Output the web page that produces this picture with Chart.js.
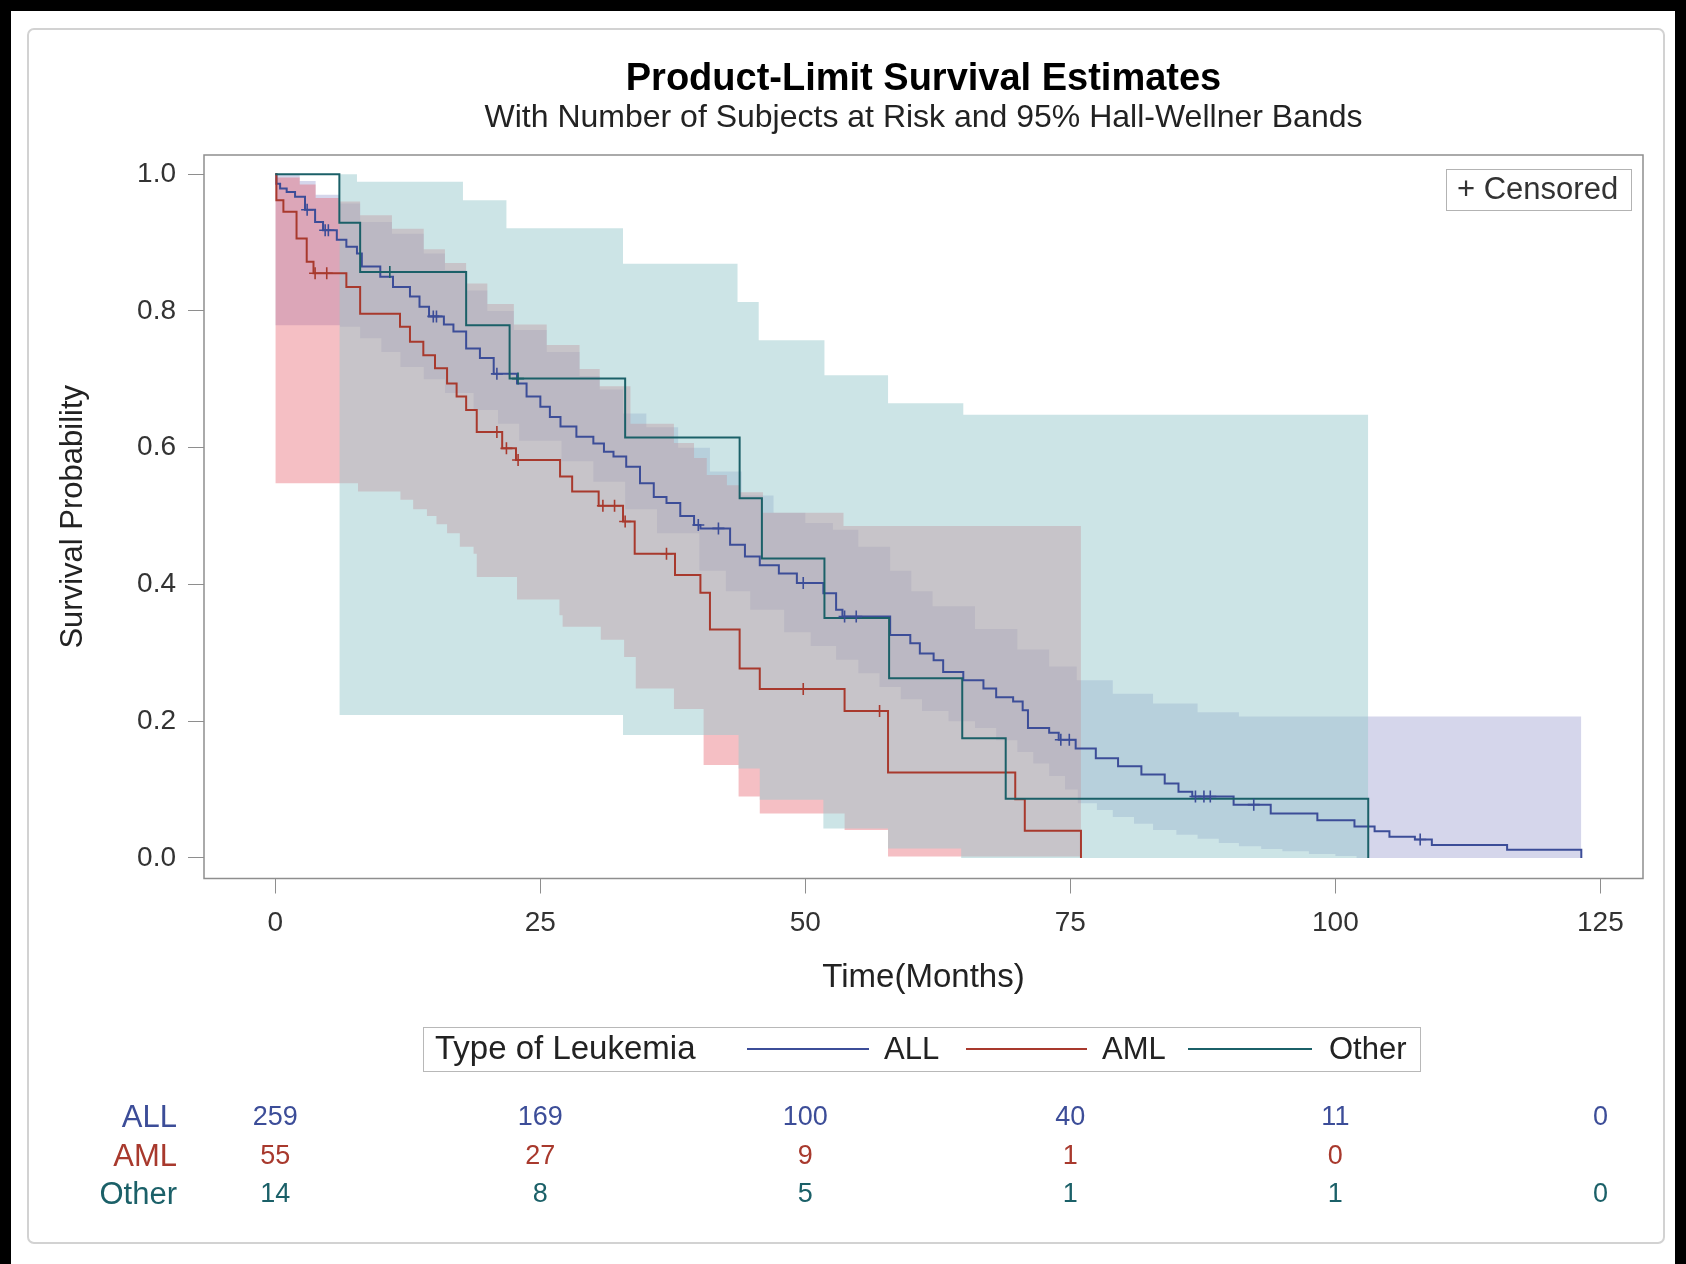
<!DOCTYPE html>
<html>
<head>
<meta charset="utf-8">
<title>Product-Limit Survival Estimates</title>
<script src="https://cdn.jsdelivr.net/npm/chart.js@4.4.1/dist/chart.umd.min.js"></script>
<style>
  html, body { margin: 0; padding: 0; background: #fff; }
  canvas { display: block; }
</style>
</head>
<body>
<canvas id="km" width="1686" height="1264"></canvas>
<script>
// Kaplan-Meier step values, [months, survival] - each value holds from its time on
const allCurve = [
  [0, 1.0], [0.1, 0.986], [0.45, 0.979], [1.07, 0.974], [1.86, 0.967], [2.8, 0.948], [3.75, 0.93],
  [4.5, 0.918], [5.8, 0.904], [6.7, 0.894], [7.7, 0.884], [8.16, 0.865], [9.9, 0.85], [11.1, 0.835],
  [12.7, 0.821], [13.6, 0.806], [14.5, 0.792], [15.9, 0.78], [16.8, 0.77], [18.0, 0.745], [19.3, 0.731],
  [20.6, 0.708], [22.8, 0.694], [23.7, 0.675], [25.0, 0.66], [25.9, 0.645], [26.9, 0.631], [28.4, 0.616],
  [30.0, 0.606], [31.0, 0.594], [31.9, 0.587], [33.1, 0.572], [34.4, 0.548], [35.7, 0.528], [36.9, 0.519],
  [38.2, 0.5], [39.5, 0.487], [40.1, 0.482], [42.9, 0.458], [44.3, 0.441], [45.7, 0.428], [47.5, 0.416],
  [49.2, 0.402], [51.7, 0.387], [52.9, 0.363], [53.5, 0.353], [58.0, 0.326], [59.9, 0.314], [60.8, 0.299],
  [62.1, 0.289], [63.0, 0.272], [64.9, 0.26], [66.8, 0.248], [68.0, 0.235], [69.6, 0.229], [70.5, 0.216],
  [71.0, 0.19], [73.0, 0.183], [73.9, 0.173], [75.5, 0.16], [77.4, 0.146], [79.5, 0.134], [81.7, 0.122],
  [83.9, 0.109], [85.2, 0.097], [86.5, 0.09], [90.4, 0.078], [93.9, 0.065], [98.3, 0.055], [101.8, 0.046],
  [103.7, 0.039], [105.1, 0.031], [107.5, 0.027], [109.1, 0.019], [116.2, 0.012], [123.2, 0.0]
];
const amlCurve = [
  [0, 1.0], [0.1, 0.962], [0.76, 0.945], [2.0, 0.906], [2.96, 0.872], [3.6, 0.855], [6.7, 0.835],
  [8.0, 0.796], [11.76, 0.777], [12.7, 0.755], [13.96, 0.735], [15.06, 0.716], [16.2, 0.694],
  [17.1, 0.675], [18.0, 0.655], [19.0, 0.623], [21.4, 0.599], [22.7, 0.582], [26.86, 0.558],
  [28.0, 0.536], [30.5, 0.515], [32.8, 0.492], [33.9, 0.445], [37.7, 0.414], [40.1, 0.388],
  [41.0, 0.334], [43.8, 0.277], [45.7, 0.247], [53.7, 0.215], [57.8, 0.125], [69.8, 0.086],
  [70.7, 0.040], [76.0, 0.0]
];
const otherCurve = [
  [0, 1.0], [6.04, 0.929], [8.0, 0.857], [18.0, 0.779], [22.1, 0.701], [33.0, 0.615], [43.8, 0.526],
  [45.9, 0.438], [51.8, 0.351], [57.9, 0.263], [64.8, 0.175], [68.9, 0.0865], [103.1, 0.0]
];

// censoring times (months)
const allCensor = [3.0, 4.7, 5.0, 14.9, 15.2, 20.9, 39.9, 41.8, 49.8, 53.7, 54.8, 74.1, 74.9, 86.8, 87.6, 88.2, 92.3, 108.0];
const amlCensor = [3.75, 4.85, 20.9, 21.8, 22.9, 30.9, 32.0, 33.0, 36.9, 49.8, 57.0];
const otherCensor = [10.8, 22.9];

// 95% Hall-Wellner bands, [months, bound]
const allUpper = [
  [0, 1.0], [2.3, 0.99], [3.8, 0.97], [6.1, 0.957], [8, 0.93], [11, 0.913], [14, 0.884], [16, 0.86],
  [18, 0.83], [20, 0.80], [22.5, 0.772], [25.6, 0.74], [28.7, 0.705], [30.6, 0.685], [32.8, 0.65],
  [35, 0.63], [38, 0.60], [41, 0.565], [44, 0.53], [47, 0.505], [50, 0.49], [52.6, 0.48], [55, 0.455],
  [58, 0.42], [60, 0.39], [62, 0.368], [66, 0.335], [70, 0.305], [73, 0.28], [75.6, 0.26], [79, 0.24],
  [82.8, 0.226], [87, 0.213], [90.9, 0.207], [123.2, 0.207]
];
const allLower = [
  [0, 0.779], [6.1, 0.777], [8, 0.76], [10, 0.74], [11.8, 0.718], [14, 0.70], [16, 0.68], [18.7, 0.655],
  [21, 0.635], [23, 0.61], [27, 0.58], [30, 0.55], [33, 0.51], [36, 0.475], [40, 0.42], [42.5, 0.39],
  [44.8, 0.363], [48, 0.33], [50.5, 0.31], [52.9, 0.29], [55, 0.27], [57, 0.25], [59, 0.232], [61, 0.215],
  [63.5, 0.2], [66, 0.19], [68, 0.172], [70, 0.155], [71.5, 0.138], [73, 0.12], [74.5, 0.1], [75.7, 0.08],
  [77.5, 0.07], [79, 0.06], [81, 0.05], [82.8, 0.041], [85, 0.034], [87, 0.028], [89, 0.022], [90.9, 0.017],
  [93, 0.013], [95, 0.01], [97.5, 0.006], [100, 0.003], [102, 0.0], [123.2, 0.0]
];
const amlUpper = [
  [0, 0.995], [2.3, 0.985], [3.8, 0.965], [6, 0.96], [8, 0.94], [11, 0.92], [14, 0.89], [16, 0.87],
  [18, 0.84], [20, 0.81], [22.5, 0.78], [25.6, 0.75], [28.7, 0.715], [30.6, 0.69], [33.5, 0.635],
  [37.6, 0.607], [39.5, 0.585], [40.7, 0.56], [42.6, 0.545], [43.8, 0.535], [46, 0.505], [53.6, 0.4855],
  [76, 0.4855]
];
const amlLower = [
  [0, 0.548], [7.8, 0.536], [11.8, 0.524], [13, 0.51], [14.3, 0.50], [15.2, 0.488], [16.2, 0.475],
  [17.4, 0.455], [18.7, 0.445], [19.0, 0.411], [22.8, 0.378], [26.8, 0.355], [27.1, 0.338], [30.7, 0.319],
  [32.9, 0.294], [34.0, 0.248], [37.6, 0.218], [40.4, 0.136], [43.7, 0.09], [45.7, 0.065], [53.7, 0.041],
  [57.8, 0.002], [76, 0.002]
];
const otherUpper = [
  [6.04, 1.0], [7.7, 0.989], [17.7, 0.962], [21.8, 0.921], [32.8, 0.869], [43.6, 0.813], [45.6, 0.757],
  [51.8, 0.706], [57.8, 0.665], [64.9, 0.648], [103.1, 0.648]
];
const otherLower = [
  [6.04, 0.209], [32.8, 0.18], [43.7, 0.131], [45.7, 0.085], [51.7, 0.043], [57.8, 0.014], [64.7, 0.0], [103.1, 0.0]
];

// number at risk
const riskTimes = [0, 25, 50, 75, 100, 125];
const allRisk = [259, 169, 100, 40, 11, 0];
const amlRisk = [55, 27, 9, 1, 0];
const otherRisk = [14, 8, 5, 1, 1, 0];

const xTicks = [0, 25, 50, 75, 100, 125];
const yTicks = [0, 0.2, 0.4, 0.6, 0.8, 1.0];

const groups = ['ALL', 'AML', 'Other'];
const lineColors = ['#3c4d98', '#a8392d', '#1b6068'];
const bandColors = ['rgba(150,152,205,0.4)', 'rgba(230,95,108,0.4)', 'rgba(153,201,205,0.5)'];

const FONT = '"Liberation Sans", Arial, sans-serif';
Chart.defaults.font.family = FONT;
Chart.defaults.color = '#333';

const toXY = (arr) => arr.map(([x, y]) => ({ x, y }));

function survAt(curve, t) {
  let s = curve[0][1];
  for (const [x, y] of curve) {
    if (x <= t) s = y;
    else break;
  }
  return s;
}

function curveSet(label, curve, color, order) {
  return {
    label, data: toXY(curve), borderColor: color, borderWidth: 2,
    stepped: true, pointRadius: 0, fill: false, order
  };
}

function censorSet(label, times, curve, color) {
  return {
    label, data: times.map((t) => ({ x: t, y: survAt(curve, t) })),
    showLine: false, pointStyle: 'cross', pointRadius: 6, pointBorderWidth: 1.6,
    borderColor: color, backgroundColor: color, order: 0
  };
}

function bandSet(label, pts, color, order, fill) {
  return {
    label, data: toXY(pts), stepped: true, borderWidth: 0, pointRadius: 0,
    backgroundColor: color, fill, order
  };
}

// page frame, plot frame, censored key, group legend and at-risk table
const decor = {
  id: 'decor',
  beforeDraw(chart) {
    const { ctx, width, height } = chart;
    ctx.save();
    ctx.fillStyle = '#fff';
    ctx.fillRect(0, 0, width, height);
    ctx.strokeStyle = '#d2d2d2';
    ctx.lineWidth = 2;
    ctx.beginPath();
    ctx.roundRect(28, 29, 1636, 1214, 6);
    ctx.stroke();
    ctx.fillStyle = '#000';
    ctx.fillRect(0, 0, width, 11);
    ctx.fillRect(0, 0, 11, height);
    ctx.fillRect(width - 11, 0, 11, height);
    ctx.restore();
  },
  afterDatasetsDraw(chart) {
    const { ctx, chartArea: a } = chart;
    ctx.save();
    ctx.strokeStyle = '#8e8e8e';
    ctx.lineWidth = 1.5;
    ctx.strokeRect(a.left, a.top, a.right - a.left, a.bottom - a.top);
    ctx.restore();
  },
  afterDraw(chart) {
    const { ctx } = chart;
    const xs = chart.scales.x;
    ctx.save();
    ctx.textBaseline = 'middle';

    // censored key
    ctx.strokeStyle = '#b3b3b3';
    ctx.lineWidth = 1;
    ctx.strokeRect(1446.5, 169.5, 185, 41);
    ctx.fillStyle = '#333';
    ctx.font = '31px ' + FONT;
    ctx.textAlign = 'left';
    ctx.fillText('+ Censored', 1457, 190);

    // group legend
    ctx.strokeStyle = '#b8b8b8';
    ctx.strokeRect(423.5, 1027.5, 997, 44);
    ctx.font = '33px ' + FONT;
    ctx.fillStyle = '#222';
    ctx.fillText('Type of Leukemia', 435, 1050);
    ctx.font = '31px ' + FONT;
    const keyPos = [[747, 869, 884], [966, 1087, 1102], [1188, 1312, 1329]];
    groups.forEach((g, i) => {
      const [x1, x2, tx] = keyPos[i];
      ctx.strokeStyle = lineColors[i];
      ctx.lineWidth = 2;
      ctx.beginPath();
      ctx.moveTo(x1, 1049);
      ctx.lineTo(x2, 1049);
      ctx.stroke();
      ctx.fillStyle = '#222';
      ctx.fillText(g, tx, 1050);
    });

    // number at risk
    const rows = [allRisk, amlRisk, otherRisk];
    const rowY = [1118, 1157, 1195];
    rows.forEach((vals, r) => {
      ctx.fillStyle = lineColors[r];
      ctx.textAlign = 'right';
      ctx.font = '31px ' + FONT;
      ctx.fillText(groups[r], 177, rowY[r]);
      ctx.textAlign = 'center';
      ctx.font = '27px ' + FONT;
      vals.forEach((v, k) => {
        ctx.fillText(String(v), xs.getPixelForValue(riskTimes[k]), rowY[r]);
      });
    });
    ctx.restore();
  }
};

new Chart(document.getElementById('km'), {
  type: 'line',
  data: {
    datasets: [
      curveSet('ALL', allCurve, lineColors[0], 3),
      curveSet('AML', amlCurve, lineColors[1], 2),
      curveSet('Other', otherCurve, lineColors[2], 1),
      censorSet('ALL censored', allCensor, allCurve, lineColors[0]),
      censorSet('AML censored', amlCensor, amlCurve, lineColors[1]),
      censorSet('Other censored', otherCensor, otherCurve, lineColors[2]),
      bandSet('ALL upper', allUpper, bandColors[0], 30, '+1'),
      bandSet('ALL lower', allLower, bandColors[0], 31, false),
      bandSet('AML upper', amlUpper, bandColors[1], 20, '+1'),
      bandSet('AML lower', amlLower, bandColors[1], 21, false),
      bandSet('Other upper', otherUpper, bandColors[2], 10, '+1'),
      bandSet('Other lower', otherLower, bandColors[2], 11, false)
    ]
  },
  options: {
    responsive: false,
    animation: false,
    events: [],
    layout: { padding: { left: 0, right: 43, top: 0, bottom: 0 } },
    plugins: {
      legend: { display: false },
      tooltip: { enabled: false },
      title: {
        display: true,
        fullSize: false,
        text: 'Product-Limit Survival Estimates',
        color: '#000',
        font: { size: 38, weight: 'bold', lineHeight: 1.1 },
        padding: { top: 58.7, bottom: 0 }
      },
      subtitle: {
        display: true,
        fullSize: false,
        text: 'With Number of Subjects at Risk and 95% Hall-Wellner Bands',
        color: '#222',
        font: { size: 32, lineHeight: 1.1 },
        padding: { top: 0, bottom: 19.3 }
      }
    },
    scales: {
      x: {
        type: 'linear',
        min: -6.73,
        max: 129.02,
        afterBuildTicks: (s) => { s.ticks = xTicks.map((v) => ({ value: v })); },
        afterFit: (s) => { s.height = 385.5; },
        ticks: { font: { size: 28 }, color: '#333', padding: 13 },
        grid: { drawOnChartArea: false, drawTicks: true, tickLength: 15, tickColor: '#8e8e8e' },
        border: { display: false },
        title: { display: true, text: 'Time(Months)', font: { size: 33 }, color: '#222', padding: { top: 0, bottom: 266 } }
      },
      y: {
        min: -0.03,
        max: 1.028,
        afterBuildTicks: (s) => { s.ticks = yTicks.map((v) => ({ value: v })); },
        afterFit: (s) => { s.width = 204; },
        ticks: { font: { size: 28 }, color: '#333', padding: 12, callback: (v) => Number(v).toFixed(1) },
        grid: { drawOnChartArea: false, drawTicks: true, tickLength: 16, tickColor: '#8e8e8e' },
        border: { display: false },
        title: { display: true, text: 'Survival Probability', font: { size: 31 }, color: '#222', padding: { top: 55, bottom: 0 } }
      }
    }
  },
  plugins: [decor]
});
</script>
</body>
</html>
